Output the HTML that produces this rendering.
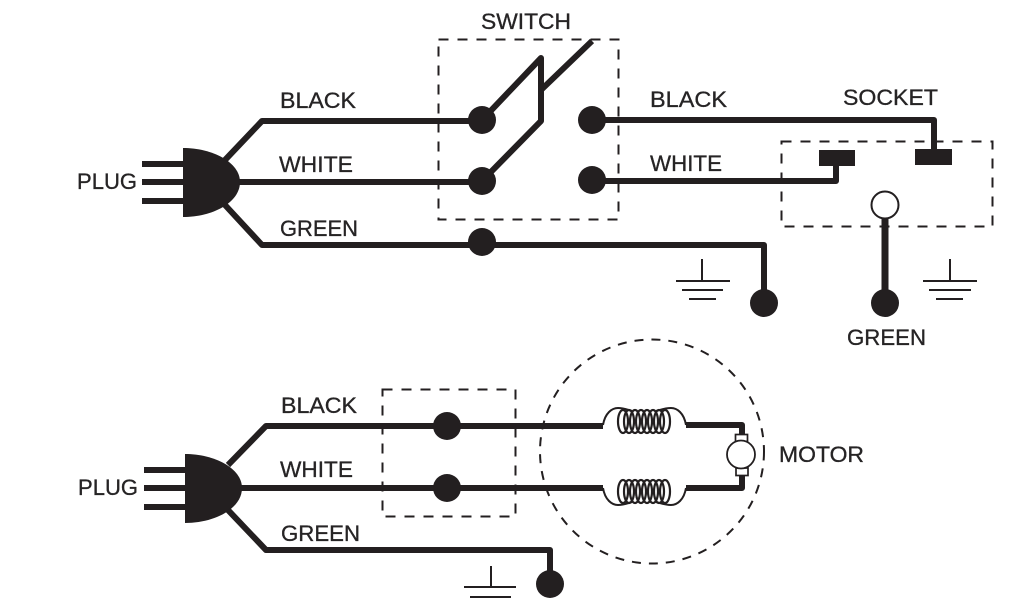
<!DOCTYPE html>
<html><head><meta charset="utf-8"><style>html,body{margin:0;padding:0;background:#fff;width:1024px;height:600px;overflow:hidden}svg{display:block}text{font-family:"Liberation Sans",sans-serif;font-size:22px;fill:#262425;stroke:#262425;stroke-width:.3px}</style></head>
<body>
<svg width="1024" height="600" viewBox="0 0 1024 600" xmlns="http://www.w3.org/2000/svg">
<defs>
<g id="plug" fill="#231f20" stroke="none">
<rect x="142" y="161" width="42" height="6"/><rect x="142" y="179" width="42" height="6"/><rect x="142" y="198" width="42" height="6"/>
<path d="M183 148 C212 148 240 162 240 182 C240 203 212 217 183 217Z"/>
</g>
<g id="coil" fill="none" stroke="#231f20" stroke-width="2.200">
<ellipse cx="623" cy="0" rx="5" ry="11.5"/><ellipse cx="629" cy="0" rx="5" ry="11.5"/><ellipse cx="635" cy="0" rx="5" ry="11.5"/><ellipse cx="641" cy="0" rx="5" ry="11.5"/><ellipse cx="647" cy="0" rx="5" ry="11.5"/><ellipse cx="653" cy="0" rx="5" ry="11.5"/><ellipse cx="659" cy="0" rx="5" ry="11.5"/><ellipse cx="665" cy="0" rx="5" ry="11.5"/>
</g>
</defs>
<rect width="1024" height="600" fill="#fff"/>

<!-- top -->
<use href="#plug"/>
<g fill="none" stroke="#231f20" stroke-width="6" stroke-linejoin="round">
<path d="M225 160 L262 121 H482"/>
<path d="M235 182 H482"/>
<path d="M225 205 L262 245 H764 V303"/>
<path d="M592 120 H934 V152"/>
<path d="M592 181 H836 V164"/>
<path d="M482 120 L541 58 V121 L482 181" stroke-linejoin="round"/>
<path d="M541 90 L592 41"/>
<path d="M885 215 V303" stroke-width="7"/>
</g>
<g fill="#231f20">
<circle cx="482" cy="120" r="14"/><circle cx="482" cy="181" r="14"/><circle cx="592" cy="120" r="14"/><circle cx="592" cy="180" r="14"/><circle cx="482" cy="242" r="14"/><circle cx="764" cy="303" r="14"/><circle cx="885" cy="303" r="14"/>
<rect x="819" y="150" width="36" height="16"/><rect x="915" y="149" width="37" height="16"/>
</g>
<circle cx="885" cy="205" r="13.5" fill="#fff" stroke="#231f20" stroke-width="2"/>
<g fill="none" stroke="#231f20" stroke-width="2" stroke-dasharray="10 9">
<rect x="438.500" y="39.500" width="180" height="180"/>
<rect x="781.500" y="141.500" width="211" height="85"/>
<rect x="382.500" y="389.500" width="133" height="127"/>
<circle cx="652" cy="451.500" r="112" stroke-dasharray="9 8"/>
</g>
<g fill="none" stroke="#231f20" stroke-width="2">
<path d="M702 259 V281 M676 281 H730 M682 290 H723 M689 299 H716"/>
<path d="M950 259 V281 M923 281 H977 M929 290 H971 M936 299 H963"/>
<path d="M491 566 V587 M464 587 H516 M470 597 H511"/>
</g>

<!-- bottom -->
<use href="#plug" transform="translate(2,306)"/>
<g fill="none" stroke="#231f20" stroke-width="6" stroke-linejoin="round">
<path d="M228 465 L266 426 H603"/>
<path d="M238 488 H603"/>
<path d="M228 510 L266 550 H550 V584"/>
<path d="M686 425 H742 V436"/>
<path d="M686 488 H742 V473"/>
</g>
<g fill="#231f20"><circle cx="447" cy="426" r="14"/><circle cx="447" cy="488" r="14"/><circle cx="550" cy="584" r="14"/></g>
<use href="#coil" y="421.500"/><use href="#coil" y="491.500"/>
<g fill="none" stroke="#231f20" stroke-width="2">
<path d="M603 425 C605 413 612 408 618 408 C624 408 628 410 632 411"/>
<path d="M686 425 C684 413 677 408 671 408 C665 408 660 410 656 411"/>
<path d="M603 488 C605 500 612 505 618 505 C624 505 628 503 632 502"/>
<path d="M686 488 C684 500 677 505 671 505 C665 505 660 503 656 502"/>
</g>
<rect x="735.500" y="434.500" width="12" height="7" fill="#fff" stroke="#231f20" stroke-width="1.700"/>
<rect x="736" y="468" width="12" height="7.500" fill="#fff" stroke="#231f20" stroke-width="1.700"/>
<circle cx="741" cy="454.500" r="14" fill="#fff" stroke="#231f20" stroke-width="1.800"/>

<!-- labels -->
<text x="280" y="108" textLength="76" lengthAdjust="spacingAndGlyphs">BLACK</text>
<text x="279" y="172" textLength="74" lengthAdjust="spacingAndGlyphs">WHITE</text>
<text x="280" y="236" textLength="78" lengthAdjust="spacingAndGlyphs">GREEN</text>
<text x="77" y="189" textLength="60" lengthAdjust="spacingAndGlyphs">PLUG</text>
<text x="481" y="29" textLength="90" lengthAdjust="spacingAndGlyphs">SWITCH</text>
<text x="650" y="107" textLength="77" lengthAdjust="spacingAndGlyphs">BLACK</text>
<text x="650" y="171" textLength="72" lengthAdjust="spacingAndGlyphs">WHITE</text>
<text x="843" y="105" textLength="95" lengthAdjust="spacingAndGlyphs">SOCKET</text>
<text x="847" y="345" textLength="79" lengthAdjust="spacingAndGlyphs">GREEN</text>
<text x="281" y="413" textLength="76" lengthAdjust="spacingAndGlyphs">BLACK</text>
<text x="280" y="477" textLength="73" lengthAdjust="spacingAndGlyphs">WHITE</text>
<text x="281" y="541" textLength="79" lengthAdjust="spacingAndGlyphs">GREEN</text>
<text x="78" y="495" textLength="60" lengthAdjust="spacingAndGlyphs">PLUG</text>
<text x="779" y="462" textLength="85" lengthAdjust="spacingAndGlyphs">MOTOR</text>
</svg>
</body></html>
